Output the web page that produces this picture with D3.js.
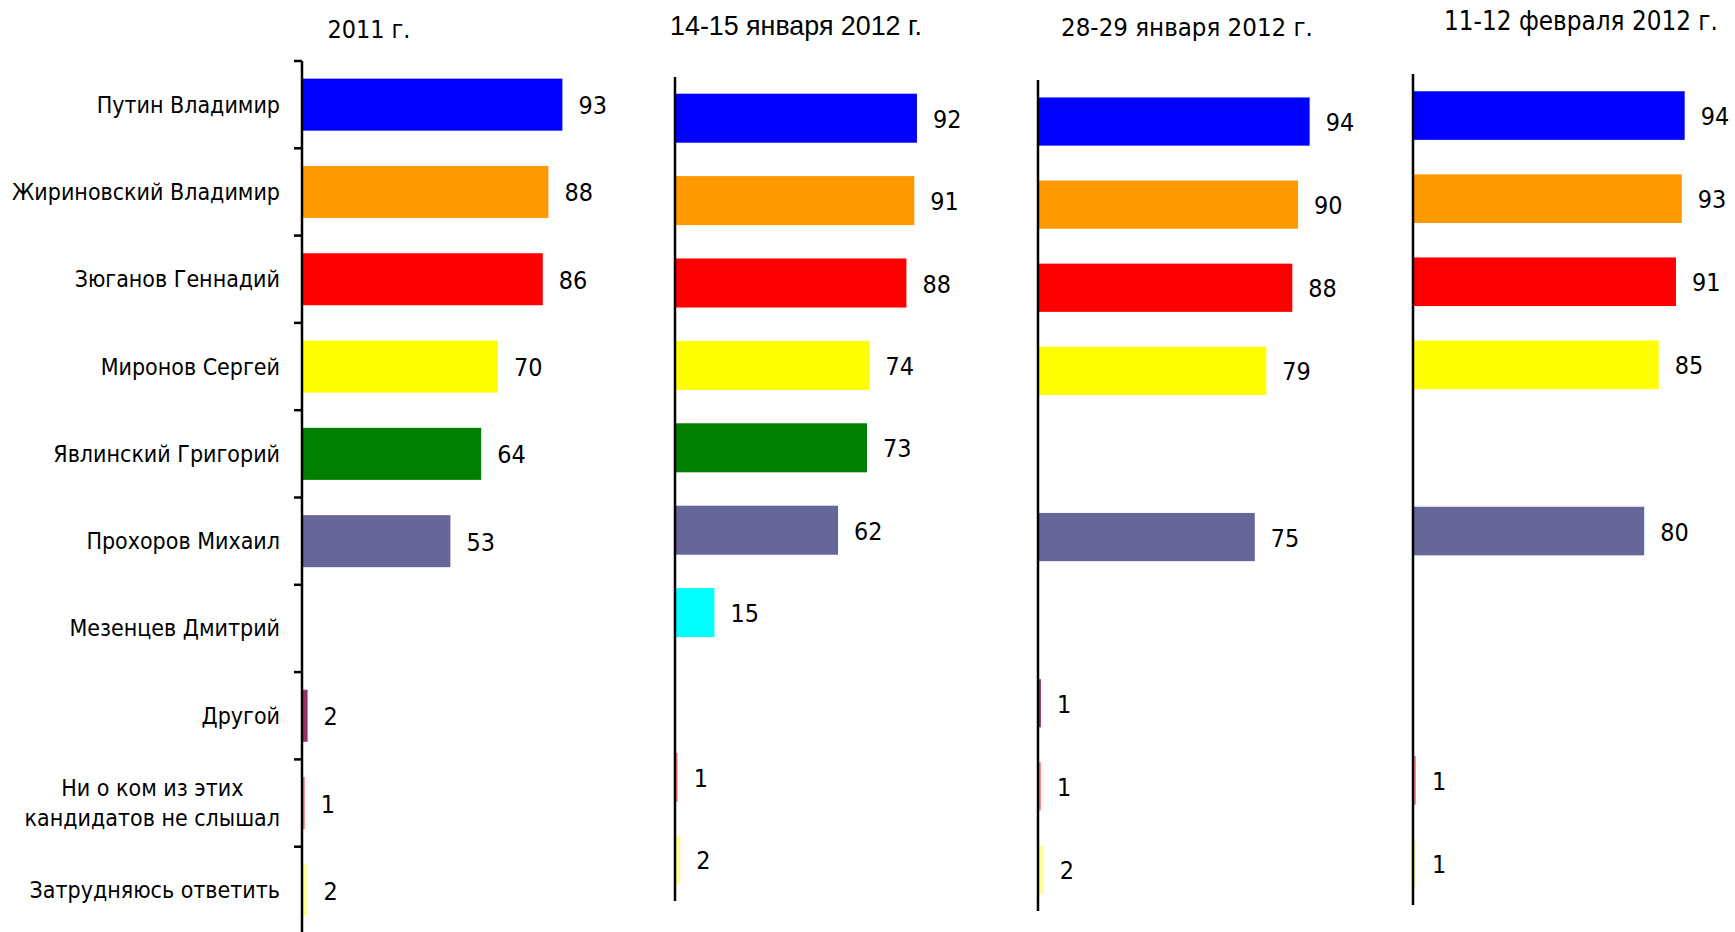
<!DOCTYPE html>
<html><head><meta charset="utf-8">
<script src="https://cdn.jsdelivr.net/npm/d3@7"></script>
<style>body{margin:0;background:#fff;} svg{display:block;}</style>
</head><body><svg id="chart" width="1735" height="932"></svg>
<script>
// ---------- data ----------
const categories = ["Путин Владимир","Жириновский Владимир","Зюганов Геннадий","Миронов Сергей","Явлинский Григорий","Прохоров Михаил","Мезенцев Дмитрий","Другой","Ни о ком из этих\nкандидатов не слышал","Затрудняюсь ответить"];
const barColors = ["#0000FF","#FF9900","#FF0000","#FFFF00","#008000","#666699","#00FFFF","#993366","#FF8080","#FFFF99"];
const panelTitles = ["2011 г.","14-15 января 2012 г.","28-29 января 2012 г.","11-12 февраля 2012 г."];
const values2011  = [93, 88, 86, 70, 64, 53, null, 2, 1, 2];
const valuesJan14 = [92, 91, 88, 74, 73, 62, 15, null, 1, 2];
const valuesJan28 = [94, 90, 88, 79, null, 75, null, 1, 1, 2];
const valuesFeb11 = [94, 93, 91, 85, null, 80, null, null, 1, 1];

// ---------- layout ----------
const LABEL_FONT = "'DejaVu Sans Condensed','DejaVu Sans',sans-serif";
const TITLE_FONTS = ["'DejaVu Sans Condensed','DejaVu Sans',sans-serif","'Liberation Sans',Arial,sans-serif","'DejaVu Sans Condensed','DejaVu Sans',sans-serif","'DejaVu Sans Condensed','DejaVu Sans',sans-serif"];
const panels = [
  {values: values2011,  x0: 302,  top: 61, bottom: 934, axisEnd: 932, k: 2.80, frac: 0.596, ticks: true,  tx: 369,  ty: 29,   tw: 83},
  {values: valuesJan14, x0: 675,  top: 77, bottom: 901, axisEnd: 901, k: 2.63, frac: 0.595, ticks: false, tx: 796,  ty: 25.5, tw: 252},
  {values: valuesJan28, x0: 1038, top: 80, bottom: 911, axisEnd: 911, k: 2.89, frac: 0.58,  ticks: false, tx: 1187, ty: 26.5, tw: 252},
  {values: valuesFeb11, x0: 1413, top: 74, bottom: 905, axisEnd: 905, k: 2.89, frac: 0.585, ticks: false, tx: 1581, ty: 21,   tw: 274}
];

const svg = d3.select("#chart");

function fitSize(text, family, target) {
  const t = svg.append("text").attr("font-family", family).attr("font-size", 100).text(text);
  const w = t.node().getComputedTextLength();
  t.remove();
  return 100 * target / w;
}
const labelSize = fitSize("Жириновский Владимир", LABEL_FONT, 268);
const valueSize = fitSize("93", LABEL_FONT, 28.5);

// category labels (left of first panel)
const yFirst = d3.scaleBand().domain(categories).range([panels[0].top, panels[0].bottom]);
const labelRight = 280;
const labG = svg.append("g").attr("font-family", LABEL_FONT).attr("font-size", labelSize).attr("fill", "#000");
categories.forEach(c => {
  const lines = c.split("\n");
  const cy = yFirst(c) + yFirst.bandwidth() / 2;
  const t = labG.append("text").attr("dominant-baseline", "central");
  if (lines.length === 1) {
    t.attr("text-anchor", "end").attr("x", labelRight).attr("y", cy).text(c);
  } else {
    const lh = 30;
    lines.forEach((ln, i) => {
      t.append("tspan").attr("y", cy + (i - (lines.length - 1) / 2) * lh).text(ln);
    });
    let maxW = 0;
    t.selectAll("tspan").each(function(){ maxW = Math.max(maxW, this.getComputedTextLength()); });
    t.attr("text-anchor", "middle");
    t.selectAll("tspan").attr("x", labelRight - maxW / 2);
  }
});

panels.forEach((p, pi) => {
  const y = d3.scaleBand().domain(categories).range([p.top, p.bottom])
    .paddingInner(1 - p.frac).paddingOuter((1 - p.frac) / 2);
  const x = d3.scaleLinear().domain([0, 100]).range([p.x0, p.x0 + 100 * p.k]);
  const g = svg.append("g");
  const data = categories.map((c, i) => ({c, v: p.values[i], color: barColors[i]})).filter(d => d.v != null);

  g.selectAll("rect").data(data).join("rect")
    .attr("x", x(0)).attr("y", d => y(d.c))
    .attr("width", d => x(d.v) - x(0)).attr("height", y.bandwidth())
    .attr("fill", d => d.color);

  g.selectAll("text.val").data(data).join("text").attr("class", "val")
    .attr("x", d => x(d.v) + 16).attr("y", d => y(d.c) + y.bandwidth() / 2 + 1)
    .attr("dominant-baseline", "central")
    .attr("font-family", LABEL_FONT).attr("font-size", valueSize).attr("fill", "#000")
    .text(d => d.v);

  // axis line
  g.append("line").attr("x1", x(0)).attr("x2", x(0)).attr("y1", p.top).attr("y2", p.axisEnd)
    .attr("stroke", "#000").attr("stroke-width", 2.5);
  if (p.ticks) {
    const step = y.step();
    const tickYs = d3.range(categories.length + 1).map(i => p.top + i * step);
    g.selectAll("line.tick").data(tickYs).join("line").attr("class", "tick")
      .attr("x1", x(0) - 8).attr("x2", x(0)).attr("y1", d => d).attr("y2", d => d)
      .attr("stroke", "#000").attr("stroke-width", 2.5);
  }

  // title
  const fs = fitSize(panelTitles[pi], TITLE_FONTS[pi], p.tw);
  svg.append("text").attr("x", p.tx).attr("y", p.ty)
    .attr("text-anchor", "middle").attr("dominant-baseline", "central")
    .attr("font-family", TITLE_FONTS[pi]).attr("font-size", fs).attr("fill", "#000")
    .text(panelTitles[pi]);
});
</script>
</body></html>
